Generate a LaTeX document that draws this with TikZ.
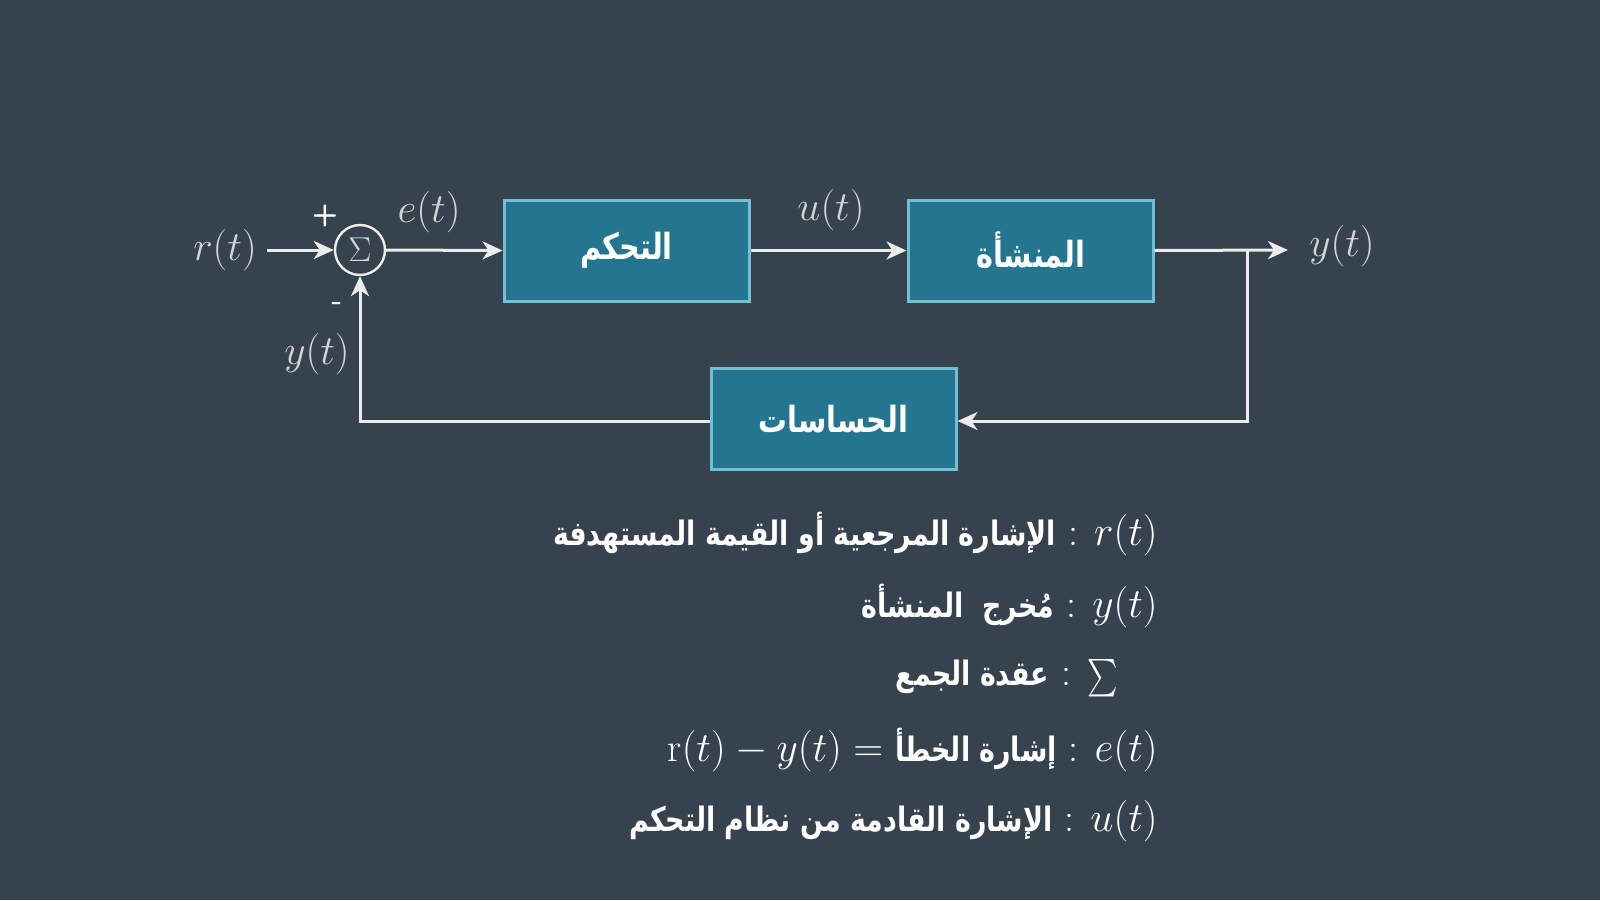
\documentclass[tikz,border=0pt]{standalone}
\usepackage{amsmath}
\usepackage{fontspec}
\newfontfamily\arabicfont[Script=Arabic, FakeStretch=0.8]{DejaVu Sans}
\TeXXeTstate=1
\usetikzlibrary{arrows.meta,calc}
\definecolor{bg}{RGB}{55,66,79}
\definecolor{boxfill}{RGB}{36,117,143}
\definecolor{boxline}{RGB}{112,192,212}
\definecolor{wire}{RGB}{236,236,236}
\definecolor{lblgray}{RGB}{212,212,212}
\tikzset{
  blk/.style={draw=boxline, line width=1.5pt, fill=boxfill, minimum width=122.5pt, minimum height=50.5pt, inner sep=0pt,
     text=white, font=\arabicfont\bfseries\fontsize{18}{20}\selectfont},
  sumc/.style={circle, draw=wire, line width=1.2pt, minimum size=25pt, inner sep=0pt, text=lblgray, font=\fontsize{17}{20}\selectfont},
  lbl/.style={text=lblgray, inner sep=0pt, font=\fontsize{20.5}{24}\selectfont},
  sgn/.style={text=white, inner sep=0pt, font=\sffamily\bfseries\fontsize{15}{16}\selectfont},
  wireline/.style={draw=wire, line width=1.5pt},
  arr/.style={wireline, -{Stealth[length=10pt, width=9pt, inset=3pt]}},
  legend/.style={anchor=east, text=white, inner sep=0pt, font=\fontsize{20}{24}\selectfont},
}
\newcommand{\ar}[1]{{\arabicfont\bfseries\fontsize{16.8}{20}\selectfont\beginR #1\endR}}
\newcommand{\sepc}{\hspace{6pt}:\hspace{8pt}}
\begin{document}
\begin{tikzpicture}[x=0.5pt, y=-0.5pt]
\fill[bg] (0,0) rectangle (1600,900);
\useasboundingbox (0,0) rectangle (1600,900);

% blocks
\node[blk] (ctrl) at (626.5,250.5) {\raisebox{-2pt}{\beginR التحكم\endR}};
\node[blk] (plant) at (1030.5,250.5) {\raisebox{-1pt}{\beginR المنشأة\endR}};
\node[blk] (sens) at (833.5,419) {\raisebox{-2pt}{\beginR الحساسات\endR}};
\node[sumc] (sum) at (360,250) {$\Sigma$};

% labels
\node[lbl] (r) at (225,250) {$r(t)$};
\node[lbl] (e) at (429,212) {$e(t)$};
\node[lbl] (u) at (831,210) {$u(t)$};
\node[lbl] (yout) at (1342,246) {$y(t)$};
\node[lbl] (yfb) at (317,354) {$y(t)$};
\node[sgn] (plus) at (325,216) {+};
\node[sgn] (minus) at (337,307) {-};

\coordinate (out) at (1288,250);
\coordinate (br) at (1247,250);

% connectors
\draw[arr] ([xshift=5pt]r.east) -- (sum.west);
\draw[arr] (sum.east) -- (ctrl.west);
\draw[arr] (ctrl.east) -- (plant.west);
\draw[arr] (plant.east) -- (out);
\draw[arr] (br) |- ([yshift=-1pt]sens.east);
\draw[arr] ([yshift=-1pt]sens.west) -| (sum.south);

% legend
\node[legend] (l1) at (1158,534) {\ar{الإشارة المرجعية أو القيمة المستهدفة}\sepc$r(t)$};
\node[legend] (l2) at (1158,606) {\ar{مُخرج\ \ المنشأة}\sepc$y(t)$};
\node[legend] (l3) at (1118,678) {\ar{عقدة الجمع}\sepc\raisebox{-1pt}{\scalebox{1}[1.3]{\fontsize{14}{16}\selectfont$\sum$}}};
\node[legend] (l4) at (1158,750) {$\mathrm{r}(t) - y(t) =$ \ar{إشارة الخطأ}\sepc$e(t)$};
\node[legend] (l5) at (1158,821) {\ar{الإشارة القادمة من نظام التحكم}\sepc$u(t)$};
\end{tikzpicture}
\end{document}
